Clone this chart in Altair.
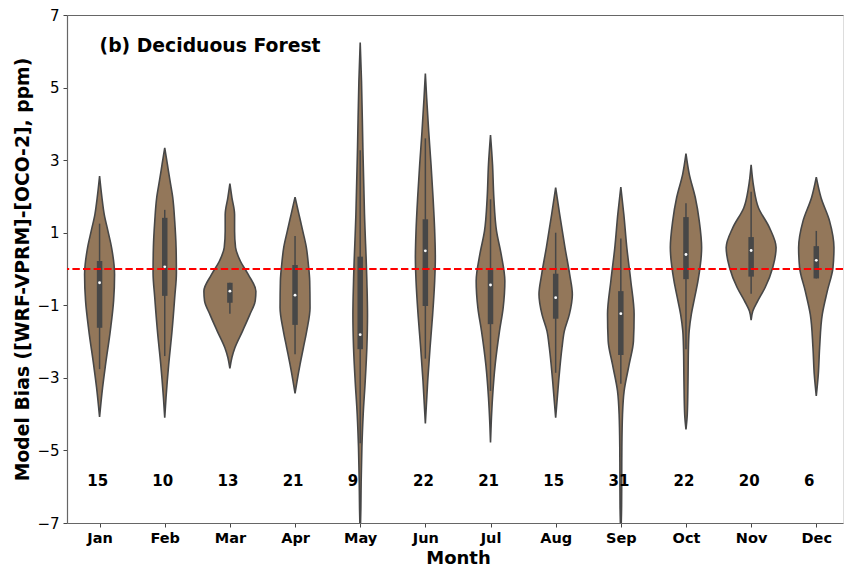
import altair as alt
import pandas as pd

# ---- data -------------------------------------------------------------
months = ["Jan", "Feb", "Mar", "Apr", "May", "Jun",
          "Jul", "Aug", "Sep", "Oct", "Nov", "Dec"]
counts = [15, 10, 13, 21, 9, 22, 21, 15, 31, 22, 20, 6]

# box statistics per month (ppm)
q1 = [-1.62, -0.74, -0.93, -1.54, -2.21, -1.02, -1.52, -1.37, -2.37, -0.28, -0.21, -0.26]
q3 = [0.22, 1.41, -0.38, 0.11, 0.34, 1.37, -0.03, -0.13, -0.61, 1.43, 0.88, 0.63]
medians = [-0.38, 0.06, -0.61, -0.72, -1.81, 0.50, -0.44, -0.79, -1.23, 0.40, 0.51, 0.24]
whisker_lo = [-2.76, -2.40, -1.23, -2.35, -4.80, -2.47, -3.36, -2.86, -3.16, -2.21, -0.68, -0.26]
whisker_hi = [1.25, 1.63, -0.38, 0.91, 3.27, 3.60, 1.92, 1.00, 0.84, 1.81, 2.13, 1.05]

# violin outlines: (bias value, half width in month units)
violin_jan = [(2.56, 0), (1.97, 0.036), (1.5, 0.072), (1.05, 0.128), (0.59, 0.184),
              (-0.15, 0.230), (-0.88, 0.215), (-1.71, 0.164), (-2.63, 0.092),
              (-3.27, 0.046), (-4.08, 0)]
violin_feb = [(3.34, 0), (2.88, 0.041), (2.42, 0.082), (1.97, 0.123), (1.32, 0.153),
              (0.59, 0.174), (-0.1, 0.179), (-0.79, 0.153), (-1.71, 0.112),
              (-2.63, 0.061), (-3.54, 0.020), (-4.10, 0)]
violin_mar = [(2.35, 0), (1.97, 0.031), (1.5, 0.072), (1.05, 0.072), (0.59, 0.087),
              (0.22, 0.160), (-0.15, 0.281), (-0.61, 0.399), (-0.88, 0.389),
              (-1.25, 0.307), (-1.71, 0.194), (-2.17, 0.077), (-2.44, 0.031), (-2.74, 0)]
violin_apr = [(1.98, 0), (1.5, 0.061), (1.05, 0.118), (0.59, 0.174), (0.13, 0.204),
              (-0.33, 0.225), (-1.07, 0.230), (-1.71, 0.179), (-2.17, 0.128),
              (-2.63, 0.077), (-3.09, 0.031), (-3.43, 0)]
violin_may = [(6.24, 0), (5.18, 0.020), (3.34, 0.041), (1.51, 0.066), (-0.33, 0.102),
              (-1.25, 0.112), (-2.17, 0.102), (-3.09, 0.077), (-4.0, 0.046),
              (-4.92, 0.026), (-5.84, 0.015), (-6.6, 0.010), (-7.4, 0)]
violin_jun = [(5.39, 0), (4.72, 0.020), (3.80, 0.051), (2.88, 0.087), (1.97, 0.118),
              (1.05, 0.143), (0.31, 0.153), (-0.33, 0.143), (-1.25, 0.112),
              (-2.17, 0.072), (-3.09, 0.036), (-4.26, 0)]
violin_jul = [(3.69, 0), (2.88, 0.031), (1.97, 0.051), (1.05, 0.092), (0.40, 0.164),
              (-0.33, 0.220), (-1.07, 0.194), (-1.71, 0.138), (-2.63, 0.072),
              (-3.54, 0.031), (-4.28, 0.010), (-4.78, 0)]
violin_aug = [(2.24, 0), (1.51, 0.061), (0.59, 0.143), (-0.15, 0.215), (-0.70, 0.256),
              (-1.25, 0.210), (-1.71, 0.133), (-2.17, 0.097), (-3.09, 0.046), (-4.10, 0)]
violin_sep = [(2.26, 0), (1.51, 0.046), (0.59, 0.092), (-0.33, 0.153), (-1.25, 0.204),
              (-1.98, 0.194), (-2.63, 0.128), (-3.36, 0.051), (-4.0, 0.026),
              (-4.92, 0.016), (-6.5, 0.012), (-7.4, 0)]
violin_oct = [(3.18, 0), (2.61, 0.051), (1.97, 0.143), (1.32, 0.204), (0.59, 0.240),
              (-0.33, 0.184), (-0.79, 0.133), (-1.25, 0.082), (-1.71, 0.049),
              (-2.17, 0.038), (-3.09, 0.031), (-4.0, 0.020), (-4.42, 0)]
violin_nov = [(2.87, 0), (2.24, 0.041), (1.69, 0.112), (1.14, 0.281), (0.59, 0.383),
              (0.04, 0.332), (-0.51, 0.215), (-0.88, 0.102), (-1.16, 0.026), (-1.41, 0)]
violin_dec = [(2.53, 0), (1.97, 0.072), (1.32, 0.204), (0.59, 0.271), (0.04, 0.256),
              (-0.61, 0.169), (-1.25, 0.092), (-2.17, 0.051), (-2.90, 0.031), (-3.50, 0)]

violins = [violin_jan, violin_feb, violin_mar, violin_apr, violin_may, violin_jun,
           violin_jul, violin_aug, violin_sep, violin_oct, violin_nov, violin_dec]

panel_label = "(b) Deciduous Forest"

# ---- tables -------------------------------------------------------------
violin_rows = []
for i, (m, outline) in enumerate(zip(months, violins)):
    for v, hw in outline:
        violin_rows.append({"month": m, "idx": i, "value": v, "hw": hw})
violin_df = pd.DataFrame(violin_rows)

stats_df = pd.DataFrame({
    "month": months, "idx": list(range(len(months))), "n": counts,
    "q1": q1, "q3": q3, "med": medians, "wlo": whisker_lo, "whi": whisker_hi,
})

# ---- styling ------------------------------------------------------------
FONT = "DejaVu Sans"
FILL = "#93775A"
EDGE = "#474747"

xscale = alt.Scale(domain=[-0.5, 11.41], nice=False, zero=False)
yscale = alt.Scale(domain=[-7, 7], nice=False, zero=False)

label_expr = "[" + ",".join(f"'{m}'" for m in months) + "][datum.value]"

x_axis_bottom = alt.Axis(
    values=list(range(len(months))), labelExpr=label_expr, grid=False,
    title="Month", titleFontSize=18, titleFontWeight="bold", titleFont=FONT,
    titleX=391, titleY=35, titleBaseline="middle", titleAlign="center",
    labelFont=FONT, labelFontSize=14.5, labelFontWeight="bold", labelColor="black",
    labelBaseline="middle", labelPadding=11, tickSize=4, tickColor="#444444",
    domainColor="#666666", domainWidth=1.2,
)
x_axis_top = alt.Axis(orient="top", labels=False, ticks=False, grid=False, title=None,
                      domainColor="#666666", domainWidth=1.2)
y_axis = alt.Axis(
    values=[-7, -5, -3, -1, 1, 3, 5, 7], grid=False,
    title="Model Bias ([WRF-VPRM]-[OCO-2], ppm)", titleFontSize=18.8,
    titleFontWeight="bold", titleFont=FONT, titleX=-45, titleY=254,
    titleAngle=-90, titleBaseline="middle", titleAlign="center",
    labelFont=FONT, labelFontSize=15, labelColor="black", labelPadding=4,
    tickSize=4, tickColor="#444444", domainColor="#666666", domainWidth=1.2,
)

# ---- layers -------------------------------------------------------------
violin_layer = alt.Chart(violin_df).transform_calculate(
    lo="datum.idx - datum.hw", hi="datum.idx + datum.hw"
).mark_area(
    orient="horizontal", interpolate="monotone", fill=FILL, stroke=EDGE,
    strokeWidth=1.6, clip=True,
).encode(
    y=alt.Y("value:Q", scale=yscale, axis=y_axis),
    x=alt.X("lo:Q", scale=xscale, axis=x_axis_bottom),
    x2="hi:Q",
    detail="month:N",
)

whisker_layer = alt.Chart(stats_df).mark_rule(color=EDGE, strokeWidth=1.5).encode(
    x=alt.X("idx:Q", scale=xscale, axis=None),
    y=alt.Y("wlo:Q", scale=yscale),
    y2="whi:Q",
)

box_layer = alt.Chart(stats_df).mark_rule(color=EDGE, strokeWidth=5.5, strokeCap="butt").encode(
    x=alt.X("idx:Q", scale=xscale, axis=None),
    y=alt.Y("q1:Q", scale=yscale),
    y2="q3:Q",
)

median_layer = alt.Chart(stats_df).mark_point(
    filled=True, color="white", size=8, opacity=1, shape="circle"
).encode(
    x=alt.X("idx:Q", scale=xscale, axis=None),
    y=alt.Y("med:Q", scale=yscale),
)

count_layer = alt.Chart(stats_df).transform_calculate(
    tx="datum.idx - 0.19"
).mark_text(
    align="left", baseline="middle", font=FONT, fontSize=15, fontWeight="bold", color="black"
).encode(
    x=alt.X("tx:Q", scale=xscale, axis=None),
    y=alt.datum(-5.85),
    text="n:Q",
)

zero_layer = alt.Chart(pd.DataFrame({"zero": [0]})).mark_rule(
    color="red", strokeDash=[7.4, 3.2], strokeWidth=2
).encode(y=alt.Y("zero:Q", scale=yscale))

label_layer = alt.Chart(pd.DataFrame({"t": [panel_label], "x": [0.0], "y": [6.14]})).mark_text(
    align="left", baseline="middle", font=FONT, fontSize=18.8, fontWeight="bold", color="black"
).encode(
    x=alt.X("x:Q", scale=xscale, axis=x_axis_top),
    y=alt.Y("y:Q", scale=yscale),
    text="t:N",
)

chart = alt.layer(
    violin_layer, whisker_layer, box_layer, median_layer, zero_layer, count_layer, label_layer
).resolve_axis(x="independent").properties(
    width=776, height=508,
    autosize=alt.AutoSizeParams(type="none"),
    padding={"left": 67, "top": 15, "right": 1, "bottom": 48},
).configure_view(stroke=None).configure(font=FONT, background="white")

chart.save("out.html", embed_options={"renderer": "svg", "actions": False})
